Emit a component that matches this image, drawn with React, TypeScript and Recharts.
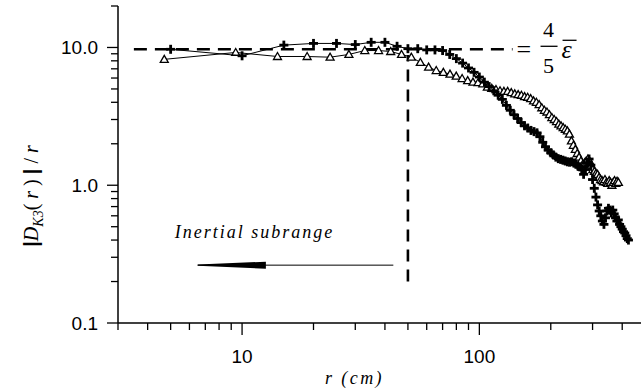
import React from 'react';
import { ScatterChart, Scatter, XAxis, YAxis, ReferenceLine } from 'recharts';

// r (cm) for the "+" series
const plusR = [
  5, 10, 15, 20, 25, 30, 35, 40, 45, 50,
  55, 60, 65, 70, 75, 80, 85, 90, 95, 100,
  105, 110, 115, 120, 125, 130, 135, 140, 145, 150,
  155, 160, 165, 170, 175, 180, 185, 190, 195, 200,
  205, 210, 215, 220, 225, 230, 235, 240, 245, 250,
  255, 260, 265, 270, 275, 280, 285, 290, 295, 300,
  305, 310, 315, 320, 325, 330, 335, 340, 345, 350,
  355, 360, 365, 370, 375, 380, 385, 390, 395, 400,
  405, 410, 415, 420, 425,
];
const plusV = [
  9.7, 8.7, 10.4, 10.7, 10.7, 10.5, 10.9, 10.9, 10.2, 9.8,
  9.8, 9.6, 9.6, 9.5, 8.9, 8.3, 7.7, 7.1, 6.6, 6.1,
  5.6, 5.2, 4.85, 4.5, 4.2, 3.8, 3.5, 3.25, 3.05, 2.85,
  2.7, 2.6, 2.5, 2.45, 2.4, 2.25, 2.05, 1.9, 1.8, 1.72,
  1.66, 1.6, 1.56, 1.54, 1.52, 1.5, 1.48, 1.47, 1.48, 1.45,
  1.42, 1.38, 1.36, 1.3, 1.2, 1.3, 1.45, 1.55, 1.4, 1.1,
  0.95, 0.82, 0.72, 0.65, 0.6, 0.55, 0.52, 0.58, 0.65, 0.68,
  0.66, 0.63, 0.66, 0.62, 0.58, 0.55, 0.56, 0.52, 0.5, 0.48,
  0.46, 0.45, 0.43, 0.41, 0.4,
];

// r (cm) for the triangle series
const triR = [
  4.7, 9.4, 14.1, 18.8, 23.5, 28.2, 32.9, 37.6, 42.3, 47,
  51.7, 56.4, 61.1, 65.8, 70.5, 75.2, 79.9, 84.6, 89.3, 94,
  98.7, 103.4, 108.1, 112.8, 117.5, 122.2, 126.9, 131.6, 136.3, 141,
  145.7, 150.4, 155.1, 159.8, 164.5, 169.2, 173.9, 178.6, 183.3, 188,
  192.7, 197.4, 202.1, 206.8, 211.5, 216.2, 220.9, 225.6, 230.3, 235,
  239.7, 244.4, 249.1, 253.8, 258.5, 263.2, 267.9, 272.6, 277.3, 282,
  286.7, 291.4, 296.1, 300.8, 305.5, 310.2, 314.9, 319.6, 324.3, 329,
  333.7, 338.4, 343.1, 347.8, 352.5, 357.2, 361.9, 366.6, 371.3, 376,
  380.7, 385.4,
];
const triV = [
  8.2, 9.2, 8.6, 8.6, 8.5, 8.9, 9.5, 9.5, 9.35, 8.9,
  8.5, 7.8, 7.2, 6.8, 6.6, 6.4, 6.2, 5.95, 5.75, 5.6,
  5.55, 5.45, 5.15, 5.05, 4.95, 4.85, 4.8, 4.8, 4.7, 4.6,
  4.55, 4.5, 4.4, 4.35, 4.25, 4.1, 4.0, 3.85, 3.65, 3.5,
  3.4, 3.25, 3.1, 3.0, 2.9, 2.78, 2.7, 2.62, 2.55, 2.48,
  2.35, 2.1, 1.95, 1.82, 1.7, 1.6, 1.5, 1.42, 1.45, 1.5,
  1.55, 1.5, 1.4, 1.3, 1.26, 1.22, 1.2, 1.14, 1.1, 1.08,
  1.06, 1.1, 1.05, 1.03, 1.08, 1.05, 1.0, 1.05, 1.08, 1.03,
  1.07, 1.05,
];

// axis ticks
const xMajor = [10, 100];
const xTicks = [3, 4, 5, 6, 7, 8, 9, 10, 20, 30, 40, 50, 60, 70, 80, 90, 100, 200, 300, 400];
const yMajor = [0.1, 1, 10];
const yTicks = [0.1, 0.2, 0.3, 0.4, 0.5, 0.6, 0.7, 0.8, 0.9, 1, 2, 3, 4, 5, 6, 7, 8, 9, 10, 20];

// annotations
const epsLevel = 9.7;
const epsRange = [3.5, 138];
const cutoffR = 50;
const cutoffRange = [0.2, 8.8];
const arrowY = 0.263;
const arrowRange = [6.5, 43.4];
const arrowHeadEnd = 12.6;

const plusData = plusR.map((r, i) => ({ r, v: plusV[i] }));
const triData = triR.map((r, i) => ({ r, v: triV[i] }));

const SANS = 'Liberation Sans, Arial, sans-serif';
const SERIF = 'Liberation Serif, Times New Roman, serif';

const PlusShape = (props: any) => {
  const { cx, cy } = props;
  return (
    <g stroke="#000" strokeWidth={2.8}>
      <line x1={cx - 4.5} y1={cy} x2={cx + 4.5} y2={cy} />
      <line x1={cx} y1={cy - 4.5} x2={cx} y2={cy + 4.5} />
    </g>
  );
};

const TriShape = (props: any) => {
  const { cx, cy } = props;
  return (
    <polygon
      points={`${cx},${cy - 4} ${cx - 4},${cy + 3} ${cx + 4},${cy + 3}`}
      fill="#fff"
      stroke="#000"
      strokeWidth={1.3}
    />
  );
};

const XTick = (props: any) => {
  const { x, y, payload } = props;
  const major = xMajor.includes(payload.value);
  return (
    <g>
      <line x1={x} y1={y} x2={x} y2={y + (major ? 12 : 7)} stroke="#000" strokeWidth={1.3} />
      {major && (
        <text x={x} y={y + 40} textAnchor="middle" fontFamily={SANS} fontSize={19} fill="#000">
          {payload.value}
        </text>
      )}
    </g>
  );
};

const YTick = (props: any) => {
  const { x, y, payload } = props;
  const major = yMajor.includes(payload.value);
  return (
    <g>
      <line x1={x - (major ? 11 : 7)} y1={y} x2={x} y2={y} stroke="#000" strokeWidth={1.3} />
      {major && (
        <text x={x - 20} y={y + 7} textAnchor="end" fontFamily={SANS} fontSize={19} fill="#000">
          {payload.value.toFixed(1)}
        </text>
      )}
    </g>
  );
};

const XLabel = (props: any) => {
  const { viewBox } = props;
  const cx = viewBox.x + viewBox.width / 2 - 25;
  return (
    <text x={cx} y={viewBox.y + 61} textAnchor="middle" fontFamily={SERIF} fontStyle="italic" fontSize={18} letterSpacing={2.4} fill="#000">
      r (cm)
    </text>
  );
};

const YLabel = () => (
  <text
    transform="translate(38,196) rotate(-90)"
    textAnchor="middle"
    fontFamily={SERIF}
    fontSize={20}
    fill="#000"
  >
    <tspan fontFamily={SANS} fontWeight="bold">|</tspan>
    <tspan fontStyle="italic">D</tspan>
    <tspan fontStyle="italic" fontSize={14} dy={5}>K3</tspan>
    <tspan dy={-5}>( </tspan>
    <tspan fontStyle="italic">r</tspan>
    <tspan> ) </tspan>
    <tspan fontFamily={SANS} fontWeight="bold">|</tspan>
    <tspan> / </tspan>
    <tspan fontStyle="italic">r</tspan>
  </text>
);

const EpsLabel = (props: any) => {
  const { viewBox } = props;
  const x = viewBox.x + viewBox.width;
  const y = viewBox.y;
  return (
    <g fontFamily={SERIF} fill="#000">
      <text x={x + 4} y={y + 9} fontSize={26}>=</text>
      <text x={x + 36} y={y - 12} fontSize={22} textAnchor="middle">4</text>
      <line x1={x + 28} y1={y - 3} x2={x + 45} y2={y - 3} stroke="#000" strokeWidth={1.3} />
      <text x={x + 36} y={y + 24} fontSize={22} textAnchor="middle">5</text>
      <text x={x + 49} y={y + 9} fontSize={26} fontStyle="italic">ε</text>
      <line x1={x + 50} y1={y - 9} x2={x + 64} y2={y - 9} stroke="#000" strokeWidth={1.3} />
    </g>
  );
};

const ArrowLabel = (props: any) => {
  const { viewBox } = props;
  return (
    <text x={viewBox.x - 23} y={viewBox.y - 27} fontFamily={SERIF} fontStyle="italic" fontSize={18} letterSpacing={2} fill="#000">
      Inertial subrange
    </text>
  );
};

const ArrowHead = (props: any) => {
  const { x1, y1, x2 } = props;
  const left = Math.min(x1, x2);
  const right = Math.max(x1, x2);
  return (
    <polygon
      points={`${left},${y1 - 0.6} ${right},${y1 - 3.5} ${right},${y1 + 3.5} ${left},${y1 + 0.6}`}
      fill="#000"
    />
  );
};

export default function App() {
  return (
    <div style={{ position: 'absolute', left: 0, top: 0, background: '#fff' }}>
      <ScatterChart width={641} height={390} margin={{ top: 6, right: 0, bottom: 0, left: 0 }}>
        <XAxis
          type="number"
          dataKey="r"
          scale="log"
          domain={[3, 480]}
          allowDataOverflow
          ticks={xTicks}
          interval={0}
          tick={<XTick />}
          tickLine={false}
          tickSize={0}
          tickMargin={0}
          height={67}
          axisLine={{ stroke: '#000', strokeWidth: 1.5 }}
          label={<XLabel />}
        />
        <YAxis
          type="number"
          dataKey="v"
          scale="log"
          domain={[0.1, 20]}
          allowDataOverflow
          ticks={yTicks}
          interval={0}
          tick={<YTick />}
          tickLine={false}
          tickSize={0}
          tickMargin={0}
          width={118}
          axisLine={{ stroke: '#000', strokeWidth: 1.5 }}
          label={<YLabel />}
        />
        <ReferenceLine
          segment={[{ x: epsRange[0], y: epsLevel }, { x: epsRange[1], y: epsLevel }]}
          stroke="#000"
          strokeWidth={2.6}
          strokeDasharray="13 8"
          label={<EpsLabel />}
        />
        <ReferenceLine
          segment={[{ x: cutoffR, y: cutoffRange[0] }, { x: cutoffR, y: cutoffRange[1] }]}
          stroke="#000"
          strokeWidth={2.6}
          strokeDasharray="12 8"
        />
        <ReferenceLine
          segment={[{ x: arrowRange[0], y: arrowY }, { x: arrowRange[1], y: arrowY }]}
          stroke="#000"
          strokeWidth={1}
          label={<ArrowLabel />}
        />
        <ReferenceLine
          segment={[{ x: arrowRange[0], y: arrowY }, { x: arrowHeadEnd, y: arrowY }]}
          shape={<ArrowHead />}
        />
        <Scatter
          data={triData}
          line={{ stroke: '#000', strokeWidth: 1 }}
          shape={<TriShape />}
          isAnimationActive={false}
        />
        <Scatter
          data={plusData}
          line={{ stroke: '#000', strokeWidth: 1 }}
          shape={<PlusShape />}
          isAnimationActive={false}
        />
      </ScatterChart>
    </div>
  );
}
